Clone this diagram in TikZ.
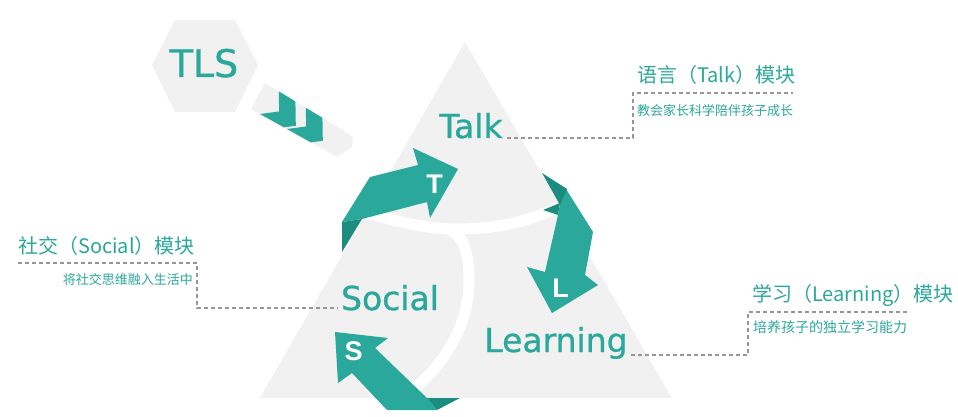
\documentclass[tikz,border=0pt]{standalone}
\usepackage{fontspec}
\newfontfamily\cjk{Noto Sans CJK SC}
\newfontfamily\dvs[FakeBold=0.9]{DejaVu Sans}
\newfontfamily\lbs{Liberation Sans}
\definecolor{teal1}{RGB}{42,168,155}
\definecolor{teal2}{RGB}{29,140,128}
\definecolor{tri}{RGB}{241,241,241}
\definecolor{dashgray}{RGB}{150,150,150}
\begin{document}
\begin{tikzpicture}[x=1pt,y=-1pt,
  bigword/.style={font=\dvs\fontsize{33}{36}\selectfont, text=teal1, inner sep=0pt, anchor=base},
  arrowletter/.style={font=\lbs\bfseries\fontsize{27}{30}\selectfont, text=white, inner sep=0pt, anchor=base},
  head/.style={font=\cjk\fontsize{20}{24}\selectfont, text=teal1, inner sep=0pt},
  subtxt/.style={font=\cjk\fontsize{13}{16}\selectfont, text=teal1, inner sep=0pt},
  leader/.style={draw=dashgray, line width=1.4pt, dash pattern=on 4pt off 3pt},
  band/.style={draw=white, line width=11pt},
  lightpart/.style={fill=teal1},
  darkpart/.style={fill=teal2},
  chevron/.style={fill=teal1},
  ]
\useasboundingbox (0,0) rectangle (958,417);
\fill[white] (0,0) rectangle (958,417);

% TLS hexagon and chevron strip
\fill[tri] (152,65) -- (175,20) -- (235,20) -- (258,65) -- (235,112) -- (175,112) -- cycle;
\node[font=\dvs\fontsize{38}{40}\selectfont, text=teal1, inner sep=0pt, anchor=base] (tls) at (204,77) {TLS};
\fill[tri] (265,83) -- (341,129) -- (353,137) -- (352,147) -- (337,157) -- (251,109) -- cycle;
\begin{scope}
  \clip (265,83) -- (341,129) -- (353,137) -- (352,147) -- (337,157) -- (251,109) -- cycle;
  \begin{scope}[shift={(267,101)}, x={(0.758pt,-0.652pt)}, y={(-0.652pt,-0.758pt)}]
    \fill[chevron] (0,-18) -- (22,-18) -- (38,0) -- (22,18) -- (0,18) -- (16,0) -- cycle;
  \end{scope}
  \begin{scope}[shift={(294,116)}, x={(0.758pt,-0.652pt)}, y={(-0.652pt,-0.758pt)}]
    \fill[chevron] (0,-18) -- (22,-18) -- (38,0) -- (22,18) -- (0,18) -- (16,0) -- cycle;
  \end{scope}
\end{scope}

% triangle
\fill[tri] (465,42) -- (672,398) -- (260,398) -- cycle;
\begin{scope}
  \clip (465,42) -- (672,398) -- (260,398) -- cycle;
  \draw[band] (360,211) .. controls (400,222) and (425,229) .. (457,229) .. controls (495,229) and (530,222) .. (560,206);
  \draw[band] (445,228) .. controls (462,232) and (469,250) .. (469,280) .. controls (469,320) and (450,360) .. (410,392);
\end{scope}

% T arrow
\fill[lightpart] (342,222) -- (370,177) -- (418,165) -- (413,148) -- (458,169) -- (430,218) -- (427,202) -- (362,219) -- cycle;
\fill[darkpart] (342,222) -- (362,219) -- (342,252) -- cycle;
% L arrow
\fill[lightpart] (566,189) -- (593,232) -- (585,275) -- (598,285) -- (552,313) -- (527,267) -- (545,272) -- (558,215) -- (560,204) -- cycle;
\fill[darkpart] (542,173) -- (567,189) -- (560,205) -- cycle;
\fill[darkpart] (543,210) -- (560,203) -- (558,215) -- cycle;
% S arrow
\fill[lightpart] (335,332) -- (388,338) -- (375,348) -- (427,398) -- (437,410) -- (387,410) -- (352,373) -- (338,383) -- cycle;
\fill[darkpart] (427,398) -- (460,398) -- (437,410) -- cycle;

\node[arrowletter] (lt) at (434.5,193) {T};
\node[arrowletter] (ll) at (560.5,297) {L};
\node[arrowletter] (ls) at (353.5,360) {S};

% big words
\node[bigword] (talk) at (471,138) {Talk};
\node[bigword] (social) at (390,310) {Social};
\node[bigword] (learning) at (556,352) {Learning};

% labels
\node[head, anchor=base west] (htalk) at (637,83) {语言（Talk）模块};
\node[subtxt, anchor=base west] (stalk) at (637,116) {教会家长科学陪伴孩子成长};
\node[head, anchor=base west] (hsocial) at (18,253) {社交（Social）模块};
\node[subtxt, anchor=base east] (ssocial) at (193,284) {将社交思维融入生活中};
\node[head, anchor=base west] (hlearn) at (752,301) {学习（Learning）模块};
\node[subtxt, font=\cjk\fontsize{14}{16}\selectfont, anchor=base west] (slearn) at (753,332) {培养孩子的独立学习能力};

% leaders
\coordinate (tkA) at (633,93);
\coordinate (tkB) at (793,93);
\draw[leader] ([xshift=4pt]talk.base east) -| (tkA) -- (tkB);
\coordinate (soA) at (18,263);
\coordinate (soB) at (197,263);
\draw[leader] (soA) -- (soB) |- ([xshift=-3pt,yshift=2pt]social.base west);
\coordinate (leA) at (748,312);
\coordinate (leB) at (907,312);
\draw[leader] ([xshift=3pt,yshift=-3pt]learning.base east) -| (leA) -- (leB);
\end{tikzpicture}
\end{document}
